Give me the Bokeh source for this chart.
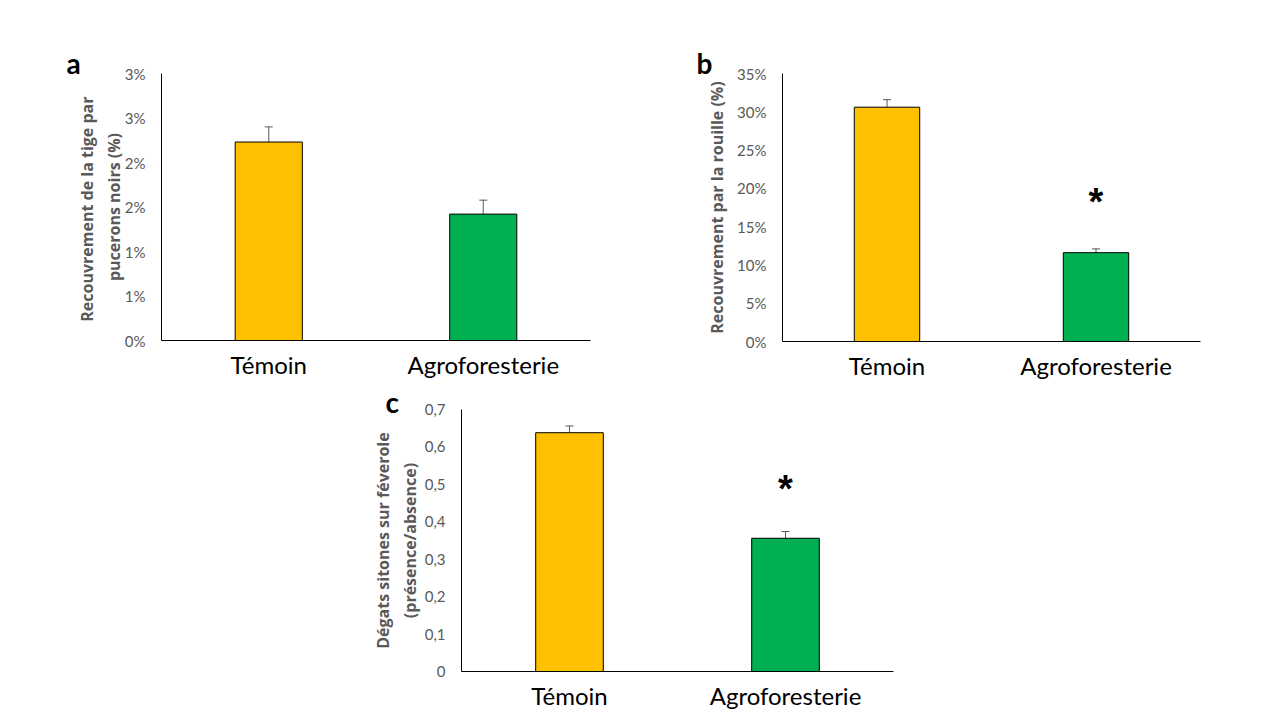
from bokeh.plotting import figure
from bokeh.models import (ColumnDataSource, Range1d, FactorRange, FixedTicker,
                          Whisker, TeeHead)
from bokeh.layouts import column, row
from bokeh.embed import file_html
from bokeh.resources import INLINE
from bokeh.core.properties import value

categories = ["Témoin", "Agroforesterie"]
bar_colors = ["#FFC000", "#00B050"]

a_values = [2.23, 1.42]
a_errors = [0.17, 0.157]
a_ticks = [0, 0.5, 1.0, 1.5, 2.0, 2.5, 3.0]
a_tick_labels = ["0%", "1%", "1%", "2%", "2%", "3%", "3%"]

b_values = [30.6, 11.6]
b_errors = [0.98, 0.5]
b_ticks = [0, 5, 10, 15, 20, 25, 30, 35]
b_tick_labels = ["0%", "5%", "10%", "15%", "20%", "25%", "30%", "35%"]
b_star_y = [18.2]

c_values = [0.638, 0.356]
c_errors = [0.018, 0.018]
c_ticks = [0, 0.1, 0.2, 0.3, 0.4, 0.5, 0.6, 0.7]
c_tick_labels = ["0", "0,1", "0,2", "0,3", "0,4", "0,5", "0,6", "0,7"]
c_star_y = [0.488]

FONT = "Lato"
TFONT = "Open Sans"
GREY = "#595959"


def panel(values, errors, ticks, tick_labels, ytitle, star_y, letter,
          letter_offset, letter_standoff,
          frame_w, frame_h, bl, br, bt, bb, title_standoff):
    p = figure(x_range=FactorRange(*categories, range_padding=0),
               y_range=Range1d(ticks[0], ticks[-1]),
               frame_width=frame_w, frame_height=frame_h,
               min_border_left=bl, min_border_right=br,
               min_border_top=bt, min_border_bottom=bb,
               toolbar_location=None, output_backend="svg",
               background_fill_color="white", border_fill_color="white")
    p.outline_line_color = None
    p.xgrid.grid_line_color = None
    p.ygrid.grid_line_color = None

    src = ColumnDataSource(dict(
        x=categories, top=values, color=bar_colors,
        upper=[v + e for v, e in zip(values, errors)],
        lower=[v - e for v, e in zip(values, errors)]))
    p.vbar(x="x", top="top", width=0.313, source=src, fill_color="color",
           line_color="black", line_width=1)
    w = Whisker(base="x", upper="upper", lower="lower", source=src,
                line_color=GREY, line_width=1,
                upper_head=TeeHead(size=8, line_color=GREY, line_width=1),
                lower_head=TeeHead(size=8, line_color=GREY, line_width=1))
    p.add_layout(w)

    if star_y:
        p.text(x=[categories[1]], y=star_y, text=["*"],
               text_font=value("Liberation Sans"), text_font_style="bold",
               text_font_size="38px", text_align="center",
               text_baseline="middle", text_color="black")

    yax = p.yaxis[0]
    yax.ticker = FixedTicker(ticks=ticks)
    yax.major_label_overrides = {t: l for t, l in zip(ticks, tick_labels)}
    yax.major_label_text_font = FONT
    yax.major_label_text_font_size = "15px"
    yax.major_label_text_color = GREY
    yax.major_label_standoff = 10
    yax.major_tick_line_color = None
    yax.minor_tick_line_color = None
    yax.axis_line_color = "black"
    yax.axis_label = ytitle
    yax.axis_label_text_font = TFONT
    yax.axis_label_text_font_style = "bold"
    yax.axis_label_text_font_size = "16px"
    yax.axis_label_text_color = GREY
    yax.axis_label_standoff = title_standoff

    xax = p.xaxis[0]
    xax.major_tick_line_color = None
    xax.minor_tick_line_color = None
    xax.axis_line_color = "black"
    xax.major_label_text_font = FONT
    xax.major_label_text_font_size = "24px"
    xax.major_label_text_color = "black"
    xax.major_label_standoff = 3

    # panel letter
    p.title.text = letter
    p.title.align = "left"
    p.title.offset = letter_offset
    p.title.standoff = letter_standoff
    p.title.text_font = FONT
    p.title.text_font_style = "bold"
    p.title.text_font_size = "28px"
    p.title.text_color = "black"
    return p


pa = panel(a_values, a_errors, a_ticks, a_tick_labels,
           "Recouvrement de la tige  par\npucerons noirs (%)", None,
           "a", -95, -13,
           429, 267, 161, 10, 73, 42, -3)
pb = panel(b_values, b_errors, b_ticks, b_tick_labels,
           "Recouvrement par la rouille (%)", b_star_y,
           "b", -86, -13,
           418, 268, 182, 10, 71, 43, 6)
pc = panel(c_values, c_errors, c_ticks, c_tick_labels,
           "Dégats sitones sur féverole\n(présence/absence)", c_star_y,
           "c", -76, -18,
           432, 262, 461, 10, 27, 39, 1)

layout = column(row(pa, pb), pc)
open("out.html", "w").write(file_html(layout, INLINE))
